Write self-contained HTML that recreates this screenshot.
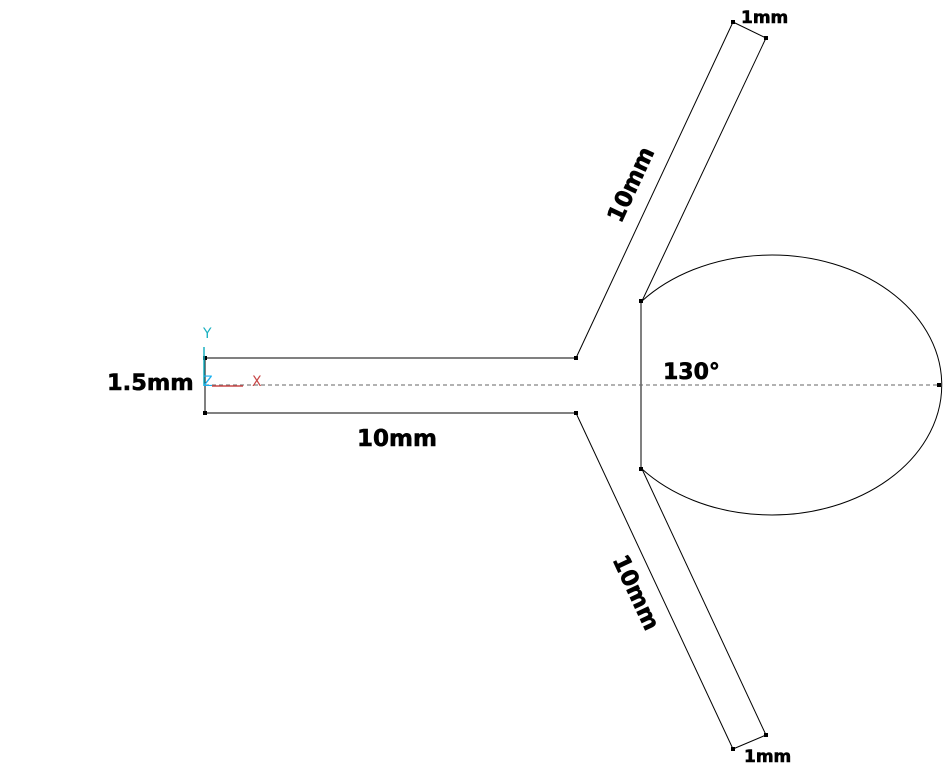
<!DOCTYPE html>
<html><head><meta charset="utf-8"><style>
html,body{margin:0;padding:0;background:#fff;}
svg{display:block;}
text{font-family:"DejaVu Sans","Liberation Sans",sans-serif;font-weight:bold;fill:#000;}
text.dim{stroke:#000;stroke-width:0.6;}
</style></head><body>
<svg width="945" height="775" viewBox="0 0 945 775">
<g stroke="#000" stroke-width="1" fill="none">
<line x1="205" y1="358" x2="576" y2="358"/>
<line x1="205" y1="413" x2="576" y2="413"/>
<line x1="205" y1="358" x2="205" y2="413"/>
<line x1="576" y1="358" x2="733" y2="22"/>
<line x1="733" y1="22" x2="766" y2="38"/>
<line x1="766" y1="38" x2="642" y2="301"/>
<line x1="576" y1="413" x2="733" y2="749"/>
<line x1="733" y1="749" x2="766" y2="735"/>
<line x1="766" y1="735" x2="642" y2="469"/>
<line x1="641" y1="301" x2="641" y2="469"/>
<path d="M642,301 A170,130 0 1 1 642,469"/>
</g>
<line x1="205" y1="385" x2="940" y2="385" stroke="#666" stroke-width="1" stroke-dasharray="4,3"/>
<g fill="#000">
<rect x="203" y="356" width="4" height="4"/>
<rect x="203" y="411" width="4" height="4"/>
<rect x="574" y="356" width="4" height="4"/>
<rect x="574" y="411" width="4" height="4"/>
<rect x="731" y="20" width="4" height="4"/>
<rect x="764" y="36" width="4" height="4"/>
<rect x="731" y="747" width="4" height="4"/>
<rect x="764" y="733" width="4" height="4"/>
<rect x="639" y="299" width="4" height="4"/>
<rect x="639" y="467" width="4" height="4"/>
<rect x="937" y="383" width="4" height="4"/>
</g>
<g>
<line x1="204" y1="347" x2="204" y2="386" stroke="#1ab0c0" stroke-width="1.5"/>
<line x1="212" y1="386" x2="243" y2="386" stroke="#c84848" stroke-width="1.5"/>
<text x="203" y="338" font-size="14" style="font-weight:normal;fill:#1ab0c0">Y</text>
<text x="203" y="386" font-size="14" style="font-weight:normal;fill:#1ab0f0">Z</text>
<text x="252" y="386" font-size="14" style="font-weight:normal;fill:#c84848">X</text>
</g>
<text class="dim" x="741" y="23" font-size="17">1mm</text>
<text class="dim" x="744" y="762" font-size="17">1mm</text>
<text class="dim" x="663" y="379" font-size="22">130°</text>
<text class="dim" x="107" y="390" font-size="22.5">1.5mm</text>
<text class="dim" x="357" y="446" font-size="23">10mm</text>
<text class="dim" x="0" y="0" font-size="23" text-anchor="middle" dominant-baseline="middle" transform="translate(632,185) rotate(-65)">10mm</text>
<text class="dim" x="0" y="0" font-size="23" text-anchor="middle" dominant-baseline="middle" transform="translate(635,593) rotate(65)">10mm</text>
</svg>
</body></html>
